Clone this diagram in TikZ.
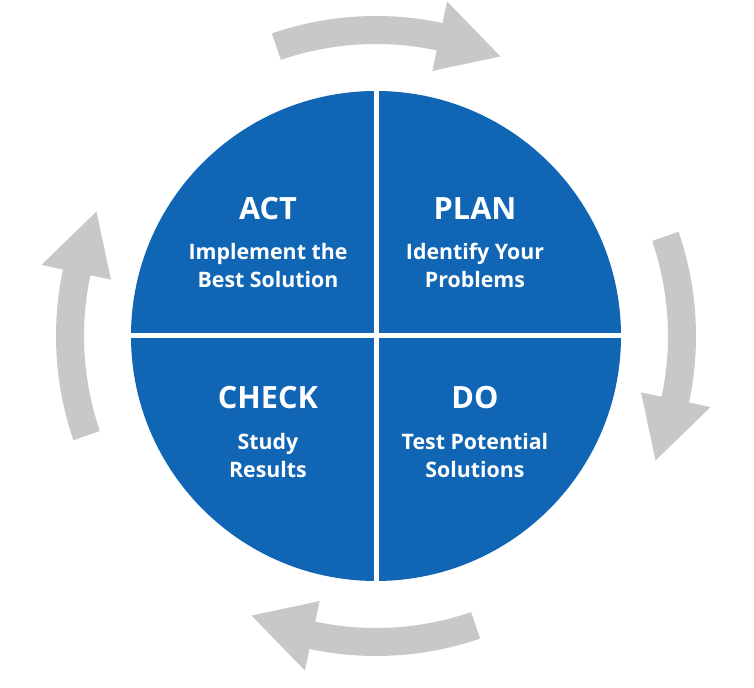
\documentclass[tikz,border=0pt]{standalone}
\usepackage{fontspec}
\setmainfont{Open Sans}
\usetikzlibrary{positioning, calc}

\definecolor{cycleblue}{RGB}{16,101,180}
\definecolor{arrowgray}{RGB}{200,199,202}

% curved gray arrow round the hub, #1 = angle of the head's base
\newcommand{\cyclearrow}[1]{%
  \fill[arrowgray] ($(hub)+(#1+31:292)$) arc[start angle=#1+31, end angle=#1, radius=292]
    -- ($(hub)+(#1:271)$) -- ($(hub)+(#1-12:306)$) -- ($(hub)+(#1:342)$)
    -- ($(hub)+(#1:320)$) arc[start angle=#1, end angle=#1+31, radius=320] -- cycle;
}

\begin{document}
\begin{tikzpicture}[
  x=0.75pt, y=0.75pt,
  phase/.style={font=\fontsize{23}{28}\selectfont\bfseries, text=white, anchor=base},
  task/.style={font=\fontsize{16}{21}\selectfont\bfseries, text=white, anchor=base, align=center},
  divider/.style={white, line width=3.75pt},
]
  \useasboundingbox (0,0) rectangle (754,688);
  \coordinate (hub) at (376,352);

  % --- Disc and quadrants ---
  \fill[cycleblue] (hub) circle[radius=245];
  \draw[divider] ($(hub)+(-250,0)$) -- ($(hub)+(250,0)$);
  \draw[divider] ($(hub)+(0,-250)$) -- ($(hub)+(0,250)$);

  % --- Arrows round the disc ---
  \cyclearrow{78}
  \cyclearrow{-12}
  \cyclearrow{-102}
  \cyclearrow{168}

  % --- Quadrant texts (task nodes sit on their last line) ---
  \node[phase] (act) at (268,468) {ACT};
  \node[task] (acttask) at (268,400) {Implement the\\Best Solution};
  \node[phase] (plan) at (475,468) {PLAN};
  \node[task] (plantask) at (475,400) {Identify Your\\Problems};
  \node[phase] (check) at (268,279) {CHECK};
  \node[task] (checktask) at (268,210) {Study\\Results};
  \node[phase] (do) at (475,279) {DO};
  \node[task] (dotask) at (475,210) {Test Potential\\Solutions};
\end{tikzpicture}
\end{document}
